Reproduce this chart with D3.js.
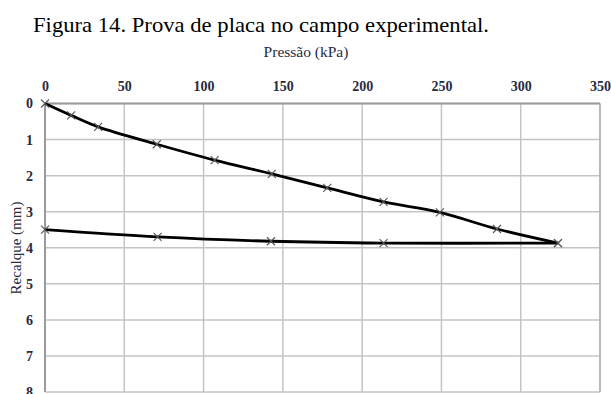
<!DOCTYPE html>
<html>
<head>
<meta charset="utf-8">
<script src="https://cdn.jsdelivr.net/npm/d3@7"></script>
<style>
  html, body { margin: 0; padding: 0; background: #fff; overflow: hidden; }
  svg { display: block; }
  text { font-family: "Liberation Serif", "Times New Roman", serif; }
</style>
</head>
<body>
<svg id="chart" width="611" height="394"></svg>
<script>
// Plate load test: settlement (mm) against applied pressure (kPa)
const xTicks = [0, 50, 100, 150, 200, 250, 300, 350];
const yTicks = [0, 1, 2, 3, 4, 5, 6, 7, 8];

// Loading branch
const loadPressure = [0, 16.5, 33.5, 70.5, 107, 143, 178, 213.5, 249, 285, 323.5];
const loadSettlement = [0, 0.33, 0.65, 1.13, 1.57, 1.95, 2.34, 2.73, 3.02, 3.48, 3.87];

// Unloading branch
const unloadPressure = [323.5, 213.5, 142.5, 71, 0];
const unloadSettlement = [3.87, 3.87, 3.82, 3.70, 3.50];

const svg = d3.select("#chart");

const x = d3.scaleLinear().domain([0, 350]).range([45, 600]);
const y = d3.scaleLinear().domain([0, 8]).range([103.5, 392]);

// Grid
const grid = svg.append("g");
grid.selectAll("line.v").data(xTicks).join("line")
  .attr("x1", d => x(d)).attr("x2", d => x(d))
  .attr("y1", y(0)).attr("y2", y(8))
  .attr("stroke", "#c4c4c4").attr("stroke-width", 1.5);
grid.selectAll("line.h").data(yTicks).join("line")
  .attr("x1", x(0)).attr("x2", x(350))
  .attr("y1", d => y(d)).attr("y2", d => y(d))
  .attr("stroke", "#c4c4c4").attr("stroke-width", 1.5);

// Plot frame
svg.append("line").attr("x1", x(0)).attr("x2", x(350)).attr("y1", y(0)).attr("y2", y(0))
  .attr("stroke", "#9a9a9a").attr("stroke-width", 2);
svg.append("line").attr("x1", x(0)).attr("x2", x(0)).attr("y1", y(0)).attr("y2", y(8))
  .attr("stroke", "#9a9a9a").attr("stroke-width", 2);
svg.append("line").attr("x1", x(350)).attr("x2", x(350)).attr("y1", y(0)).attr("y2", y(8))
  .attr("stroke", "#b0b0b0").attr("stroke-width", 1.5);

// Axes (labels only; lines drawn by the grid/frame)
const xAxis = svg.append("g").attr("transform", `translate(0,${y(0)})`)
  .call(d3.axisTop(x).tickValues(xTicks).tickSize(0).tickPadding(13));
const yAxis = svg.append("g").attr("transform", `translate(${x(0)},0)`)
  .call(d3.axisLeft(y).tickValues(yTicks).tickSize(0).tickPadding(12));
[xAxis, yAxis].forEach(a => {
  a.select(".domain").remove();
  a.selectAll("text")
    .attr("font-size", 14)
    .attr("font-weight", 600)
    .attr("fill", "#272b3f");
});

// Titles
svg.append("text").attr("x", 261).attr("y", 32).attr("text-anchor", "middle")
  .attr("font-size", 21).attr("fill", "#000")
  .attr("textLength", 456).attr("lengthAdjust", "spacingAndGlyphs")
  .text("Figura 14. Prova de placa no campo experimental.");
svg.append("text").attr("x", 306).attr("y", 57).attr("text-anchor", "middle")
  .attr("font-size", 15.5).attr("fill", "#272b3f")
  .text("Pressão (kPa)");
svg.append("text").attr("transform", "translate(21,248) rotate(-90)")
  .attr("text-anchor", "middle").attr("font-size", 15).attr("fill", "#272b3f")
  .text("Recalque (mm)");

// Series
const series = [
  d3.zip(loadPressure, loadSettlement),
  d3.zip(unloadPressure, unloadSettlement)
];
const line = d3.line().x(d => x(d[0])).y(d => y(d[1])).curve(d3.curveCatmullRom.alpha(0.5));

svg.append("g").selectAll("path").data(series).join("path")
  .attr("d", line).attr("fill", "none")
  .attr("stroke", "#000").attr("stroke-width", 2.8).attr("stroke-linejoin", "round");

// Cross markers
const pts = series.flat();
const r = 4;
svg.append("g").selectAll("path").data(pts).join("path")
  .attr("d", d => {
    const cx = x(d[0]), cy = y(d[1]);
    return `M${cx - r},${cy - r}L${cx + r},${cy + r}M${cx - r},${cy + r}L${cx + r},${cy - r}`;
  })
  .attr("stroke", "#555").attr("stroke-width", 1.1).attr("fill", "none");
</script>
</body>
</html>
